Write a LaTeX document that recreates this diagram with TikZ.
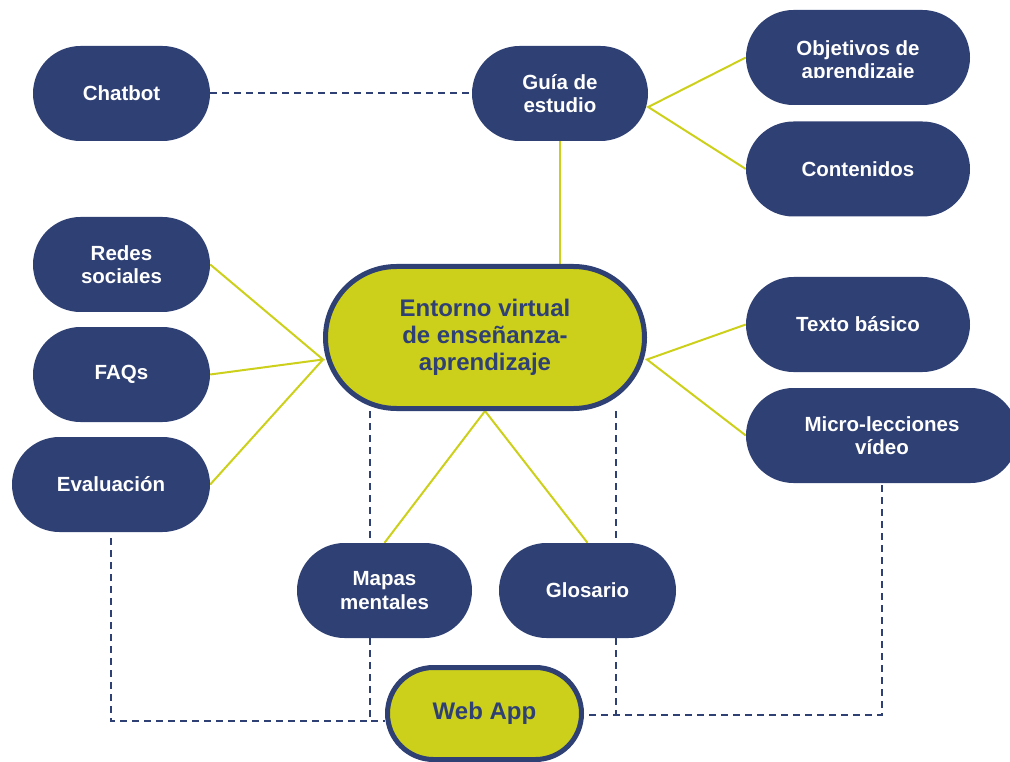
\documentclass[tikz,border=0pt]{standalone}
\usepackage{fontspec}
\setmainfont{Liberation Sans}
\usetikzlibrary{backgrounds}
\definecolor{navy}{RGB}{47,64,116}
\definecolor{lime}{RGB}{205,208,27}

\begin{document}
\begin{tikzpicture}[x=1pt, y=-1pt,
        topic/.style={fill=navy, text=white, rounded corners=47.5pt, minimum height=95pt, align=center, inner sep=0pt, font=\bfseries\fontsize{20.5}{23.5}\selectfont},
        hub/.style={draw=navy, line width=5pt, fill=lime, text=navy, align=center, inner sep=0pt, font=\bfseries\fontsize{24}{27}\selectfont},
        link/.style={lime, line width=2pt},
        dlink/.style={navy, line width=2pt, dash pattern=on 7pt off 5pt}]
        \useasboundingbox (0,0) rectangle (1010,762);
        
        \node[hub, minimum width=319pt, minimum height=142pt, rounded corners=71pt] (ent) at (485,337.5) {Entorno virtual\\de enseñanza-\\aprendizaje};
        \node[hub, minimum width=194pt, minimum height=92pt, rounded corners=46pt] (app) at (484.5,713.5) {Web App};
        
        \node[topic, minimum width=177pt] (chat) at (121.5,93.5) {Chatbot};
        \node[topic, minimum width=176pt] (guia) at (560,93.5) {Guía de\\estudio};
        \node[topic, minimum width=224pt] (obj) at (858,57.5) {};
        \node[topic, minimum width=224pt] (con) at (858,169) {Contenidos};
        \node[topic, minimum width=177pt] (red) at (121.5,264.5) {Redes\\sociales};
        \node[topic, minimum width=177pt] (faq) at (121.5,374.5) {FAQs};
        \node[topic, minimum width=198pt] (eva) at (111,484.5) {Evaluación};
        \node[topic, minimum width=224pt] (tex) at (858,324.5) {Texto básico};
        \node[topic, minimum width=272pt] (mic) at (882,435.5) {Micro-lecciones\\vídeo};
        \node[topic, minimum width=175pt] (map) at (384.5,590.5) {Mapas\\mentales};
        \node[topic, minimum width=177pt] (glo) at (587.5,590.5) {Glosario};
        
        % text of the first box is cut at the bottom
        \begin{scope}
            \clip (746,10) rectangle (970,77.5);
            \node[topic, fill=none] (objtxt) at ([yshift=-4pt]obj.center) {Objetivos de\\aprendizaje};
        \end{scope}
        
        \begin{scope}[on background layer]
            \coordinate (guiaR) at ([yshift=-13.5pt]guia.east);
            \coordinate (entL) at ([yshift=-22pt]ent.west);
            \coordinate (entR) at ([yshift=-22pt]ent.east);
            \coordinate (jL) at (370,721);
            \coordinate (jR) at (616,715);
            
            \draw[link] (guia.south) -- (guia.south |- ent.north);
            \draw[link] (obj.west) -- (guiaR) -- (con.west);
            \draw[link] (red.east) -- (entL) -- (faq.east);
            \draw[link] (eva.east) -- (entL);
            \draw[link] (tex.west) -- (entR) -- (mic.west);
            \draw[link] (map.north) -- (ent.south) -- (glo.north);
            
            \draw[dlink] (chat.east) -- (guia.west);
            \draw[dlink] (jL |- ent.south) -- (jL |- map.north);
            \draw[dlink] (jL |- map.south) -- (jL) -- (app.west |- jL);
            \draw[dlink] ([yshift=-6pt]eva.south) |- (jL);
            \draw[dlink] (jR |- ent.south) -- (jR |- glo.north);
            \draw[dlink] (jR |- glo.south) -- (jR);
            \draw[dlink] ([yshift=-2pt]mic.south) |- (app.east |- jR);
        \end{scope}
    \end{tikzpicture}
\end{document}
